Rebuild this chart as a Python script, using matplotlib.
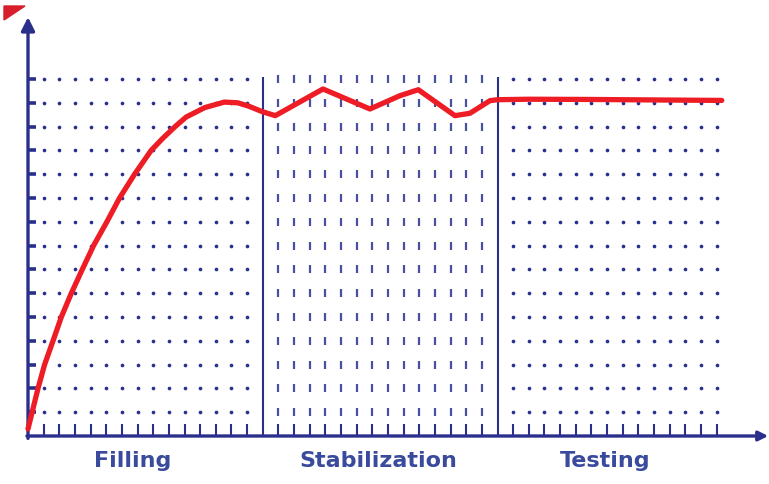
import matplotlib
matplotlib.use("Agg")
import matplotlib.pyplot as plt
from matplotlib.patches import Polygon

# ---- data ----
phases = ["Filling", "Stabilization", "Testing"]
phase_bounds = [0, 15, 30, 45]
label_x = [6.7, 22.4, 36.9]
n_rows = 15
n_cols = 45

curve_x = [0, 0.64, 1.06, 1.6, 2.13, 2.77, 3.47, 4.19, 5.04, 5.85, 6.81, 7.87,
           8.6, 9.4, 10.1, 11.3, 12.55, 13.4, 14.1, 15.0, 15.8, 18.85, 21.85,
           23.77, 24.94, 27.28, 28.24, 29.52, 30.0, 32, 36, 40, 44.33]
curve_y = [0.3, 2, 3, 4, 5, 6, 7, 8, 9, 10, 11, 12,
           12.5, 13, 13.4, 13.8, 14.03, 14.0, 13.86, 13.62, 13.46, 14.58, 13.74,
           14.3, 14.55, 13.46, 13.56, 14.09, 14.13, 14.15, 14.14, 14.12, 14.1]

# ---- style ----
navy = "#2b2f8c"
dash_col = "#4a50a0"
text_col = "#3a4a9c"
red = "#ee1c25"

fig = plt.figure(figsize=(7.69, 4.85), dpi=100)
ax = fig.add_axes([0, 0, 1, 1])
# pixel mapping: x_px = 28 + 15.65*c ; y_px = 437 - 23.8*r
ax.set_xlim(-28 / 15.65, (769 - 28) / 15.65)
ax.set_ylim((437 - 485) / 23.8, 437 / 23.8)
ax.axis("off")

rows = list(range(1, n_rows + 1))
dot_cols = [c for c in range(1, n_cols + 1) if c not in phase_bounds]
stab_cols = [c for c in dot_cols if phase_bounds[1] < c < phase_bounds[2]]
plain_cols = [c for c in dot_cols if c not in stab_cols]

# dotted grid
xs = [c for c in plain_cols for r in rows]
ys = [r for c in plain_cols for r in rows]
ax.scatter(xs, ys, s=7, color=navy, linewidths=0, zorder=2)
xs2 = [c for c in stab_cols for r in rows]
ys2 = [r for c in stab_cols for r in rows]
ax.plot(xs2, ys2, ls="none", marker="|", ms=5.5, mew=1.6, color=dash_col, zorder=2)

# x ticks
ax.vlines(dot_cols, 0, 0.5, color=navy, lw=1.5, zorder=3)
# y ticks
ax.hlines(rows, 0, 0.5, color=navy, lw=2.6, zorder=3)

# separators
ax.vlines(phase_bounds[1:3], 0, 15.1, color=navy, lw=1.5, zorder=3)

# axes with arrows
ax.annotate("", xy=(47.3, 0), xytext=(-0.07, 0),
            arrowprops=dict(arrowstyle="-|>", lw=2.4, color=navy,
                            mutation_scale=14, shrinkA=0, shrinkB=0), zorder=4)
ax.annotate("", xy=(0, 17.6), xytext=(0, -0.1),
            arrowprops=dict(arrowstyle="-|>", lw=2.4, color=navy,
                            mutation_scale=20, shrinkA=0, shrinkB=0), zorder=4)

# curve
ax.plot(curve_x, curve_y, color=red, lw=3.8, solid_joinstyle="round",
        solid_capstyle="round", zorder=5, clip_on=False)

# labels
for name, x in zip(phases, label_x):
    ax.text(x, -1.24, name, ha="center", va="baseline", fontsize=16,
            family="DejaVu Sans", fontweight="bold", color=text_col)

# red corner triangle
fig.patches.append(Polygon([[4 / 769, 1 - 7 / 485], [25 / 769, 1 - 7 / 485],
                            [4 / 769, 1 - 21 / 485]], closed=True,
                           transform=fig.transFigure, color="#d71f2b"))

fig.savefig("out.png", dpi=100)
